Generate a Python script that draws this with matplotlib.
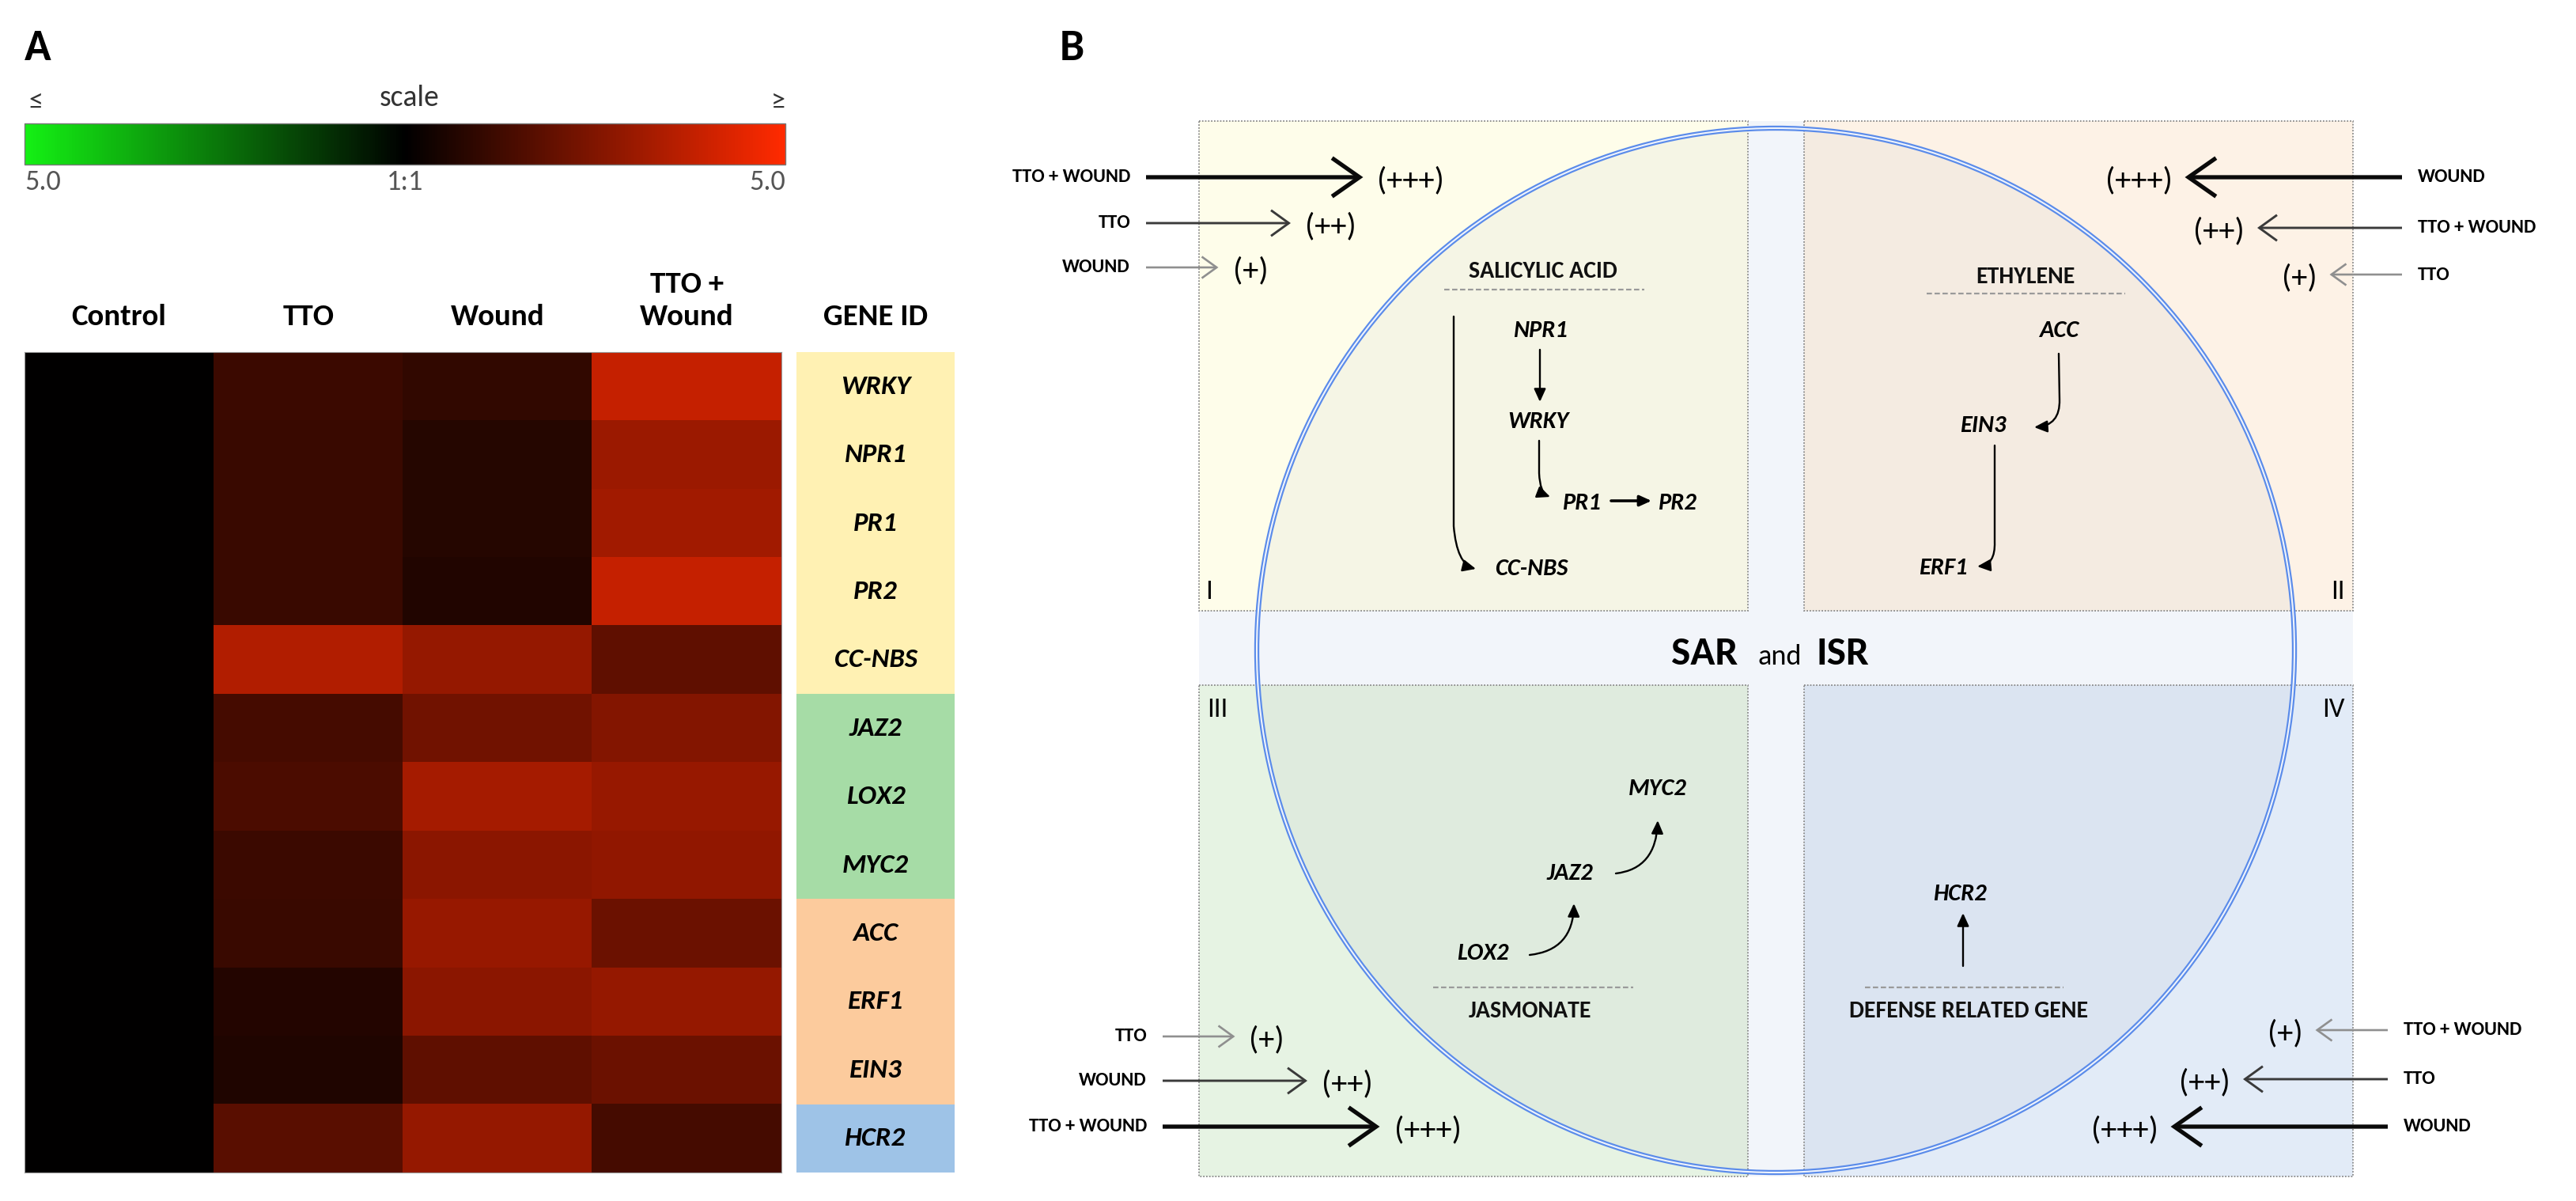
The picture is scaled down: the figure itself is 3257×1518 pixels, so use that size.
import numpy as np
import matplotlib
matplotlib.use('Agg')
import matplotlib.pyplot as plt
from matplotlib import font_manager
from matplotlib.colors import LinearSegmentedColormap, Normalize
from matplotlib.cm import ScalarMappable
from matplotlib.patches import Rectangle, Ellipse, FancyArrowPatch
from matplotlib.path import Path

# ------------------------------------------------------------------ data
conditions = ['Control', 'TTO', 'Wound', 'TTO +\nWound']
genes = ['WRKY', 'NPR1', 'PR1', 'PR2', 'CC-NBS', 'JAZ2', 'LOX2', 'MYC2',
         'ACC', 'ERF1', 'EIN3', 'HCR2']
gene_groups = ['SA', 'SA', 'SA', 'SA', 'SA', 'JA', 'JA', 'JA',
               'ET', 'ET', 'ET', 'DEF']
control = [0, 0, 0, 0, 0, 0, 0, 0, 0, 0, 0, 0]
tto = [1.14, 1.10, 1.10, 1.10, 3.45, 1.35, 1.45, 1.14, 1.10, 0.67, 0.59, 1.73]
wound = [0.94, 0.73, 0.73, 0.63, 2.92, 2.20, 3.24, 2.70, 2.94, 2.70, 1.84, 2.92]
tto_wound = [3.84, 3.02, 3.14, 3.84, 1.84, 2.55, 2.94, 2.82, 2.08, 2.92, 2.08, 1.35]
scale_labels = ['5.0', '1:1', '5.0']
scale_limits = [-5.0, 5.0]

quad_numerals = ['I', 'II', 'III', 'IV']
quad_pathways = ['SALICYLIC ACID', 'ETHYLENE', 'JASMONATE', 'DEFENSE RELATED GENE']
q1_treat = ['TTO + WOUND', 'TTO', 'WOUND']
q1_level = [3, 2, 1]
q2_treat = ['WOUND', 'TTO + WOUND', 'TTO']
q2_level = [3, 2, 1]
q3_treat = ['TTO', 'WOUND', 'TTO + WOUND']
q3_level = [1, 2, 3]
q4_treat = ['TTO + WOUND', 'TTO', 'WOUND']
q4_level = [1, 2, 3]

# ------------------------------------------------------------------ fonts
avail = {f.name for f in font_manager.fontManager.ttflist}
FONT = 'DejaVu Sans'
for cand in ['Carlito', 'Liberation Sans Narrow', 'Lato', 'Open Sans']:
    if cand in avail:
        FONT = cand
        break
plt.rcParams['font.family'] = [FONT, 'DejaVu Sans']

W, H = 3257, 1518
DPI = 100
fig = plt.figure(figsize=(W / DPI, H / DPI), dpi=DPI)


def px_axes(x0, y0, x1, y1, **kw):
    return fig.add_axes([x0 / W, 1 - y1 / H, (x1 - x0) / W, (y1 - y0) / H], **kw)


bg = px_axes(0, 0, W, H)
bg.set_xlim(0, W)
bg.set_ylim(H, 0)
bg.axis('off')

# ------------------------------------------------------------------ panel A
cmap = LinearSegmentedColormap.from_list('gbr', ['#14F014', '#000000', '#FF2A00'])
norm = Normalize(scale_limits[0], scale_limits[1])

bg.text(31, 60, 'A', fontsize=40, fontweight='bold', va='center', ha='left')

cax = px_axes(31, 156, 993, 208)
cb = fig.colorbar(ScalarMappable(norm=norm, cmap=cmap), cax=cax, orientation='horizontal')
cb.set_ticks([])
cb.outline.set_edgecolor('#777777')
cb.outline.set_linewidth(1.0)
bg.text(45, 128, '≤', fontsize=26, color='#333333', ha='center', va='center')
bg.text(518, 124, 'scale', fontsize=27, color='#333333', ha='center', va='center')
bg.text(984, 128, '≥', fontsize=26, color='#333333', ha='center', va='center')
bg.text(31, 230, scale_labels[0], fontsize=26, color='#555555', ha='left', va='center')
bg.text(512, 230, scale_labels[1], fontsize=26, color='#555555', ha='center', va='center')
bg.text(993, 230, scale_labels[2], fontsize=26, color='#555555', ha='right', va='center')

data = np.column_stack([control, tto, wound, tto_wound])
HM_TOP, HM_BOT = 445, 1482
hax = px_axes(31, HM_TOP, 988, HM_BOT)
hax.imshow(data, cmap=cmap, norm=norm, aspect='auto', interpolation='nearest')
hax.xaxis.tick_top()
hax.set_xticks(range(len(conditions)))
hax.set_xticklabels(conditions, fontsize=28, fontweight='bold')
for lab in hax.get_xticklabels():
    lab.set_linespacing(1.3)
hax.tick_params(axis='x', length=0, pad=20)
hax.set_yticks([])
for s in hax.spines.values():
    s.set_edgecolor('#999999')
    s.set_linewidth(0.8)

group_colors = {'SA': '#FFF1B3', 'JA': '#A6DCA6', 'ET': '#FCCB9D', 'DEF': '#9EC3E7'}
gax = px_axes(1007, HM_TOP, 1207, HM_BOT)
ypos = np.arange(len(genes))
gax.barh(ypos, 1, height=1.0, left=0, color=[group_colors[g] for g in gene_groups],
         edgecolor='none')
gax.set_xlim(0, 1)
gax.set_ylim(len(genes) - 0.5, -0.5)
for y, g in zip(ypos, genes):
    gax.text(0.5, y, g, fontsize=25, fontweight='bold', fontstyle='italic',
             ha='center', va='center')
gax.xaxis.tick_top()
gax.set_xticks([0.5])
gax.set_xticklabels(['GENE ID'], fontsize=28, fontweight='bold')
gax.tick_params(axis='x', length=0, pad=20)
gax.set_yticks([])
for s in gax.spines.values():
    s.set_visible(False)

# ------------------------------------------------------------------ panel B
bg.text(1340, 60, 'B', fontsize=40, fontweight='bold', va='center', ha='left')

STRIP = '#F2F5FA'
bg.add_patch(Rectangle((1516, 153), 2975 - 1516, 1487 - 153, facecolor=STRIP,
                       edgecolor='none', zorder=1))
boxes = [(1516, 153, 2210, 772, '#FEFDEA'),
         (2281, 153, 2975, 772, '#FDF2E6'),
         (1516, 866, 2210, 1487, '#E6F3E3'),
         (2281, 866, 2975, 1487, '#E2EBF7')]
for x0, y0, x1, y1, c in boxes:
    bg.add_patch(Rectangle((x0, y0), x1 - x0, y1 - y0, facecolor=c, edgecolor='none', zorder=1.5))

CX, CY, RX, RY = 2245, 822, 656, 660
bg.add_patch(Ellipse((CX, CY), 2 * RX, 2 * RY, facecolor=(0.52, 0.56, 0.66), alpha=0.07,
                     edgecolor='none', zorder=2))
# redraw strips over the circle tint
bg.add_patch(Rectangle((2210, 153), 71, 1487 - 153, facecolor=STRIP, edgecolor='none', zorder=3))
bg.add_patch(Rectangle((1516, 772), 2975 - 1516, 94, facecolor=STRIP, edgecolor='none', zorder=3))
for x0, y0, x1, y1, c in boxes:
    bg.add_patch(Rectangle((x0, y0), x1 - x0, y1 - y0, fill=False, edgecolor='#8a8a8a',
                           lw=1.3, linestyle=(0, (1, 1.1)), zorder=4))

bg.add_patch(Ellipse((CX, CY), 2 * RX, 2 * RY, fill=False, edgecolor='#5A8BEA', lw=4.6, zorder=5))
bg.add_patch(Ellipse((CX, CY), 2 * RX, 2 * RY, fill=False, edgecolor='#EEF3FC', lw=1.5, zorder=5.1))

# quadrant numerals
bg.text(1524, 748, quad_numerals[0], fontsize=25, ha='left', va='center', zorder=6)
bg.text(2965, 748, quad_numerals[1], fontsize=25, ha='right', va='center', zorder=6)
bg.text(1526, 897, quad_numerals[2], fontsize=25, ha='left', va='center', zorder=6)
bg.text(2965, 897, quad_numerals[3], fontsize=25, ha='right', va='center', zorder=6)

# SAR and ISR
bg.text(2113, 840, 'SAR', fontsize=37, fontweight='bold', ha='left', va='baseline', zorder=6)
bg.text(2222, 840, 'and', fontsize=26, ha='left', va='baseline', zorder=6)
bg.text(2296, 840, 'ISR', fontsize=37, fontweight='bold', ha='left', va='baseline', zorder=6)

# treatment arrows
ARROW_STYLE = {
    3: dict(lw=3.8, color='#0a0a0a', hl=1.0, hw=0.7, ms=25),
    2: dict(lw=2.1, color='#3a3a3a', hl=0.9, hw=0.65, ms=18),
    1: dict(lw=1.9, color='#8f8f8f', hl=0.9, hw=0.65, ms=15),
}


def treatment_rows(x_start, ys, names, levels, direction):
    for y, name, lev in zip(ys, names, levels):
        st = ARROW_STYLE[lev]
        length = 91.5 * lev
        x_end = x_start + direction * length
        bg.add_patch(FancyArrowPatch(
            (x_start, y), (x_end, y),
            arrowstyle=f'->,head_length={st["hl"]},head_width={st["hw"]}',
            mutation_scale=st['ms'], lw=st['lw'], color=st['color'],
            shrinkA=0, shrinkB=0, zorder=6, capstyle='butt', joinstyle='miter'))
        sign = '(' + '+' * lev + ')'
        if direction > 0:
            bg.text(x_start - 20, y, name, fontsize=17.5, fontweight='bold',
                    ha='right', va='center', zorder=6)
            bg.text(x_end + 18, y + 4, sign, fontsize=29, ha='left', va='center', zorder=6)
        else:
            bg.text(x_start + 20, y, name, fontsize=17.5, fontweight='bold',
                    ha='left', va='center', zorder=6)
            bg.text(x_end - 16, y + 4, sign, fontsize=29, ha='right', va='center', zorder=6)


treatment_rows(1449, [224, 282, 338], q1_treat, q1_level, +1)
treatment_rows(3037, [224, 288, 347], q2_treat, q2_level, -1)
treatment_rows(1470, [1310, 1366, 1424], q3_treat, q3_level, +1)
treatment_rows(3019, [1302, 1364, 1424], q4_treat, q4_level, -1)

# pathway headings with dashed rules
heading_pos = [(1951, 343, 1826, 2079, 366), (2561, 350, 2436, 2687, 371),
               (1935, 1278, 1812, 2065, 1248), (2489, 1278, 2358, 2609, 1248)]
for name, (tx, ty, lx0, lx1, ly) in zip(quad_pathways, heading_pos):
    bg.text(tx, ty, name, fontsize=21.5, fontweight='bold', ha='center', va='center',
            color='#111111', zorder=6)
    bg.plot([lx0, lx1], [ly, ly], color='#9a9a9a', lw=1.6, linestyle=(0, (3, 1.5)), zorder=6)

# gene nodes
node_pos = {'NPR1': (1947, 418), 'WRKY': (1945, 533), 'PR1': (2000, 636),
            'PR2': (2121, 636), 'CC-NBS': (1936, 719),
            'ACC': (2603, 418), 'EIN3': (2507, 538), 'ERF1': (2457, 718),
            'MYC2': (2096, 997), 'JAZ2': (1985, 1104), 'LOX2': (1875, 1205),
            'HCR2': (2478, 1130)}
for g in genes:
    x, y = node_pos[g]
    bg.text(x, y, g, fontsize=22, fontweight='bold', fontstyle='italic',
            ha='center', va='center', zorder=6)

M, L, C = Path.MOVETO, Path.LINETO, Path.CURVE3


def path_arrow(pts, codes, lw=1.7, ms=18):
    bg.add_patch(FancyArrowPatch(path=Path(pts, codes),
                                 arrowstyle='-|>,head_length=0.55,head_width=0.25',
                                 mutation_scale=ms, lw=lw, color='black', zorder=6))


path_arrow([(1838, 400), (1838, 665), (1842, 713), (1866, 719)], [M, L, C, C])
path_arrow([(1947, 442), (1947, 508)], [M, L])
path_arrow([(1946, 557), (1946, 598), (1947, 623), (1960, 628)], [M, L, C, C])
path_arrow([(2037, 633), (2088, 633)], [M, L], lw=2.6, ms=16)
path_arrow([(2603, 447), (2604, 505), (2605, 538), (2572, 540)], [M, L, C, C])
path_arrow([(2522, 563), (2522, 685), (2523, 714), (2500, 716)], [M, L, C, C])
path_arrow([(1934, 1207), (1989, 1201), (1990, 1142)], [M, C, C])
path_arrow([(2043, 1104), (2094, 1098), (2096, 1037)], [M, C, C])
path_arrow([(2482, 1221), (2482, 1154)], [M, L])

fig.savefig('out.png', dpi=DPI, facecolor='white')
